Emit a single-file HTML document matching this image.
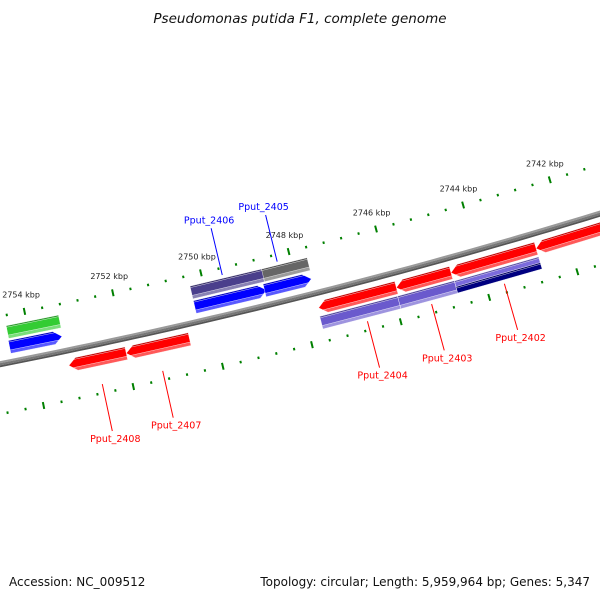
<!DOCTYPE html>
<html><head><meta charset="utf-8"><style>
html,body{margin:0;padding:0;background:#fff}
svg{display:block;font-family:"DejaVu Sans","Liberation Sans",sans-serif}
</style></head><body>
<svg id="map" width="600" height="600" viewBox="0 0 600 600">
<text x="300" y="23" text-anchor="middle" font-size="13.5" font-style="italic" fill="#111">Pseudomonas putida F1, complete genome</text>
<g id="ticks"></g>
<g id="backbone"></g>
<g id="features"></g>
<g id="labels"></g>
<text x="9" y="586" font-size="12" fill="#111">Accession: NC_009512</text>
<text x="590" y="586" text-anchor="end" font-size="12" fill="#111">Topology: circular; Length: 5,959,964 bp; Genes: 5,347</text>
</svg>
<script>
// data
const tickLabelsKbp = [2754, 2752, 2750, 2748, 2746, 2744, 2742];
const featureNames = ["green-bar","blue-arrow-1","purple-bar-2406","gray-bar-2405","blue-arrow-2406","blue-arrow-2405","red-arrow-2408","red-arrow-2407","red-arrow-2404","red-arrow-2403","red-arrow-2402","red-arrow-2401","purple-bar-2404","purple-bar-2403","purple-bar-2402","navy-bar-2402"];
const featureStarts = [2753280,2753300,2748654,2747639,2748677,2747661,2751995,2750573,2745901,2744659,2742719,2740000,2745924,2744637,2742719,2742719];
const featureEnds   = [2754460,2754477,2750302,2748677,2750302,2748722,2753281,2751995,2747661,2745901,2744659,2742719,2747684,2745924,2744637,2744637];
const featureTracks = [-30,-15,-30,-30,-15,-15,15,15,15,15,15,15,30,30,27,33];
const featureHeights= [13,13,13,13,13,13,13,13,13,13,13,13,13,13,6.5,6.5];
const featureDirs   = ["none","right","none","none","right","right","left","left","left","left","left","left","none","none","none","none"];
const featureColors = ["#33cc33","#0000ff","#4a3f8c","#666666","#0000ff","#0000ff","#ff0000","#ff0000","#ff0000","#ff0000","#ff0000","#ff0000","#6a5acd","#6a5acd","#7b6bdc","#000080"];
const labelNames = ["Pput_2406","Pput_2405","Pput_2404","Pput_2403","Pput_2402","Pput_2407","Pput_2408"];
const labelBp    = [2749550,2748300,2746700,2745250,2743600,2751300,2752650];
const labelColors= ["#0000ff","#0000ff","#ff0000","#ff0000","#ff0000","#ff0000","#ff0000"];

const NS="http://www.w3.org/2000/svg";
const R=6000, K=0.0455/R, REF=2748000;
const nx=0.243, ny=0.970;
const CX=300-nx*R, CY=297-ny*R, A0=Math.atan2(ny,nx);
function pt(bp,r){const a=A0+(bp-REF)*K, d=R+r;return [CX+d*Math.cos(a),CY+d*Math.sin(a)];}
function P(a){return a.map(p=>p[0].toFixed(2)+","+p[1].toFixed(2)).join(" ");}
function mk(tag,parent){const e=document.createElementNS(NS,tag);parent.appendChild(e);return e;}

// ticks
const tg=document.getElementById("ticks");
for(let bp=2738000; bp<=2758000; bp+=400){
  const major=(bp%2000===0);
  [-47,49].forEach(r=>{
    const len=major?7:2.5;
    const a=pt(bp,r-len/2), b=pt(bp,r+len/2);
    const l=mk("line",tg);
    
    
    l.setAttribute("x1",a[0]);l.setAttribute("y1",a[1]);l.setAttribute("x2",b[0]);l.setAttribute("y2",b[1]);
    l.setAttribute("stroke","#008000");l.setAttribute("stroke-width","2");
  });
}
tickLabelsKbp.forEach(k=>{
  const p=pt(k*1000,-64);
  const t=mk("text",tg);
  
  
  t.setAttribute("x",p[0]);t.setAttribute("y",p[1]+3);t.setAttribute("text-anchor","middle");
  t.setAttribute("font-size","8");t.setAttribute("fill","#222");
  t.textContent=k+" kbp";
});

// backbone
const bb=document.getElementById("backbone");
[[ -3,-1,"#9a9a9a"],[-1,1.2,"#777"],[1.2,3,"#555"]].forEach(s=>{
  const pts=[];
  for(let bp=2737000;bp<=2759000;bp+=250)pts.push(pt(bp,s[0]));
  for(let bp=2759000;bp>=2737000;bp-=250)pts.push(pt(bp,s[1]));
  const pg=mk("polygon",bb);
  
  
  pg.setAttribute("points",P(pts));pg.setAttribute("fill",s[2]);
});

// features
function shade(c,f){
  const n=parseInt(c.slice(1),16);let r=n>>16,g=(n>>8)&255,b=n&255;
  if(f>0){r+=(255-r)*f;g+=(255-g)*f;b+=(255-b)*f;}else{r*=1+f;g*=1+f;b*=1+f;}
  return "rgb("+Math.round(r)+","+Math.round(g)+","+Math.round(b)+")";
}
function band(s,e,rc,h,dir,r1,r2){
  const hb=8/0.0455;
  function ext(r){return hb*Math.abs(r-rc)/h;}
  const pts=[];
  if(dir==="right"){
    pts.push(pt(e,r1));pts.push(pt(s+ext(r1),r1));
    if(r1<rc&&r2>rc)pts.push(pt(s,rc));
    pts.push(pt(s+ext(r2),r2));pts.push(pt(e,r2));
  }else if(dir==="left"){
    pts.push(pt(s,r1));pts.push(pt(e-ext(r1),r1));
    if(r1<rc&&r2>rc)pts.push(pt(e,rc));
    pts.push(pt(e-ext(r2),r2));pts.push(pt(s,r2));
  }else{
    pts.push(pt(s,r1),pt(e,r1),pt(e,r2),pt(s,r2));
  }
  return pts;
}
const fg=document.getElementById("features");
featureNames.forEach((name,i)=>{
  const s=featureStarts[i],e=featureEnds[i],rc=featureTracks[i],h=featureHeights[i]/2,d=featureDirs[i],c=featureColors[i];
  const g=mk("g",fg);
  
  
  const layers=[[rc-h,rc+h,c],[rc-h,rc-h+1.5,shade(c,-0.25)]];
  if(featureHeights[i]>7)layers.push([rc+h-3.5,rc+h,shade(c,0.35)]);
  layers.forEach(L=>{
    const pg=mk("polygon",g);
    
    
    pg.setAttribute("points",P(band(s,e,rc,h,d,L[0],L[1])));
    pg.setAttribute("fill",L[2]);
    pg.setAttribute("stroke","#fff");pg.setAttribute("stroke-width","0.4");
  });
});

// labels
const lg=document.getElementById("labels");
labelNames.forEach((n,i)=>{
  const up=labelColors[i]==="#0000ff";
  const a=pt(labelBp[i],up?-40:40), b=pt(labelBp[i],up?-88:88);
  const l=mk("line",lg);
  
  
  l.setAttribute("x1",a[0]);l.setAttribute("y1",a[1]);l.setAttribute("x2",b[0]);l.setAttribute("y2",b[1]);
  l.setAttribute("stroke",labelColors[i]);l.setAttribute("stroke-width","1");
  const t=mk("text",lg);
  
  
  t.setAttribute("x",up?b[0]-2:b[0]+3);t.setAttribute("y",up?b[1]-5:b[1]+11);
  t.setAttribute("text-anchor","middle");t.setAttribute("font-size","9.5");t.setAttribute("fill",labelColors[i]);
  t.textContent=n;
});
</script>
</body></html>
